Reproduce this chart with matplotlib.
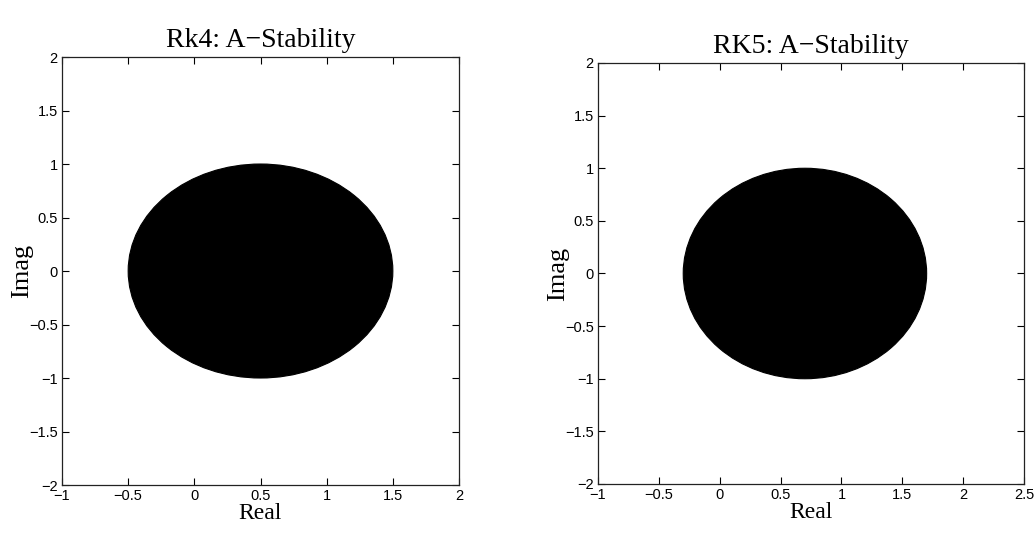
import matplotlib
matplotlib.use("Agg")
from matplotlib import pyplot as plt
from matplotlib.patches import Ellipse

# dados
titles = ["Rk4: A\u2212Stability", "RK5: A\u2212Stability"]
centers = [(0.5, 0.0), (0.7, 0.0)]
semi_real = [1.0, 1.0]
semi_imag = [1.0, 1.0]
xlims = [(-1, 2), (-1, 2.5)]
xticks = [[-1, -0.5, 0, 0.5, 1, 1.5, 2],
          [-1, -0.5, 0, 0.5, 1, 1.5, 2, 2.5]]
yticks = [-2, -1.5, -1, -0.5, 0, 0.5, 1, 1.5, 2]

def fmt(v):
    s = ("%g" % v)
    return s.replace("-", "\u2212")

fig = plt.figure(figsize=(10.35, 5.38), dpi=100)
boxes = [[0.0599, 0.0985, 0.3836, 0.7955],
         [0.5778, 0.1004, 0.4116, 0.7825]]

tick_font = ["Liberation Sans", "DejaVu Sans"]
serif = ["Liberation Serif", "DejaVu Serif"]

for i in range(2):
    ax = fig.add_axes(boxes[i])
    e = Ellipse(centers[i], 2 * semi_real[i], 2 * semi_imag[i],
                facecolor="black", edgecolor="black", lw=0.8)
    ax.add_patch(e)
    ax.set_xlim(*xlims[i])
    ax.set_ylim(-2, 2)
    ax.set_xticks(xticks[i])
    ax.set_xticklabels([fmt(v) for v in xticks[i]], family=tick_font, fontsize=10.5)
    ax.set_yticks(yticks)
    ax.set_yticklabels([fmt(v) for v in yticks], family=tick_font, fontsize=10.5)
    ax.tick_params(direction="in", top=True, right=True, length=5, width=0.8, pad=3)
    for sp in ax.spines.values():
        sp.set_linewidth(0.9)
        sp.set_color("#222222")
    ax.set_title(titles[i], family=serif, fontsize=20, pad=7)
    ax.set_xlabel("Real", family=serif, fontsize=17, labelpad=0)
    ax.set_ylabel("Imag", family=serif, fontsize=19, labelpad=-3)

fig.savefig("out.png", dpi=100, facecolor="white")
